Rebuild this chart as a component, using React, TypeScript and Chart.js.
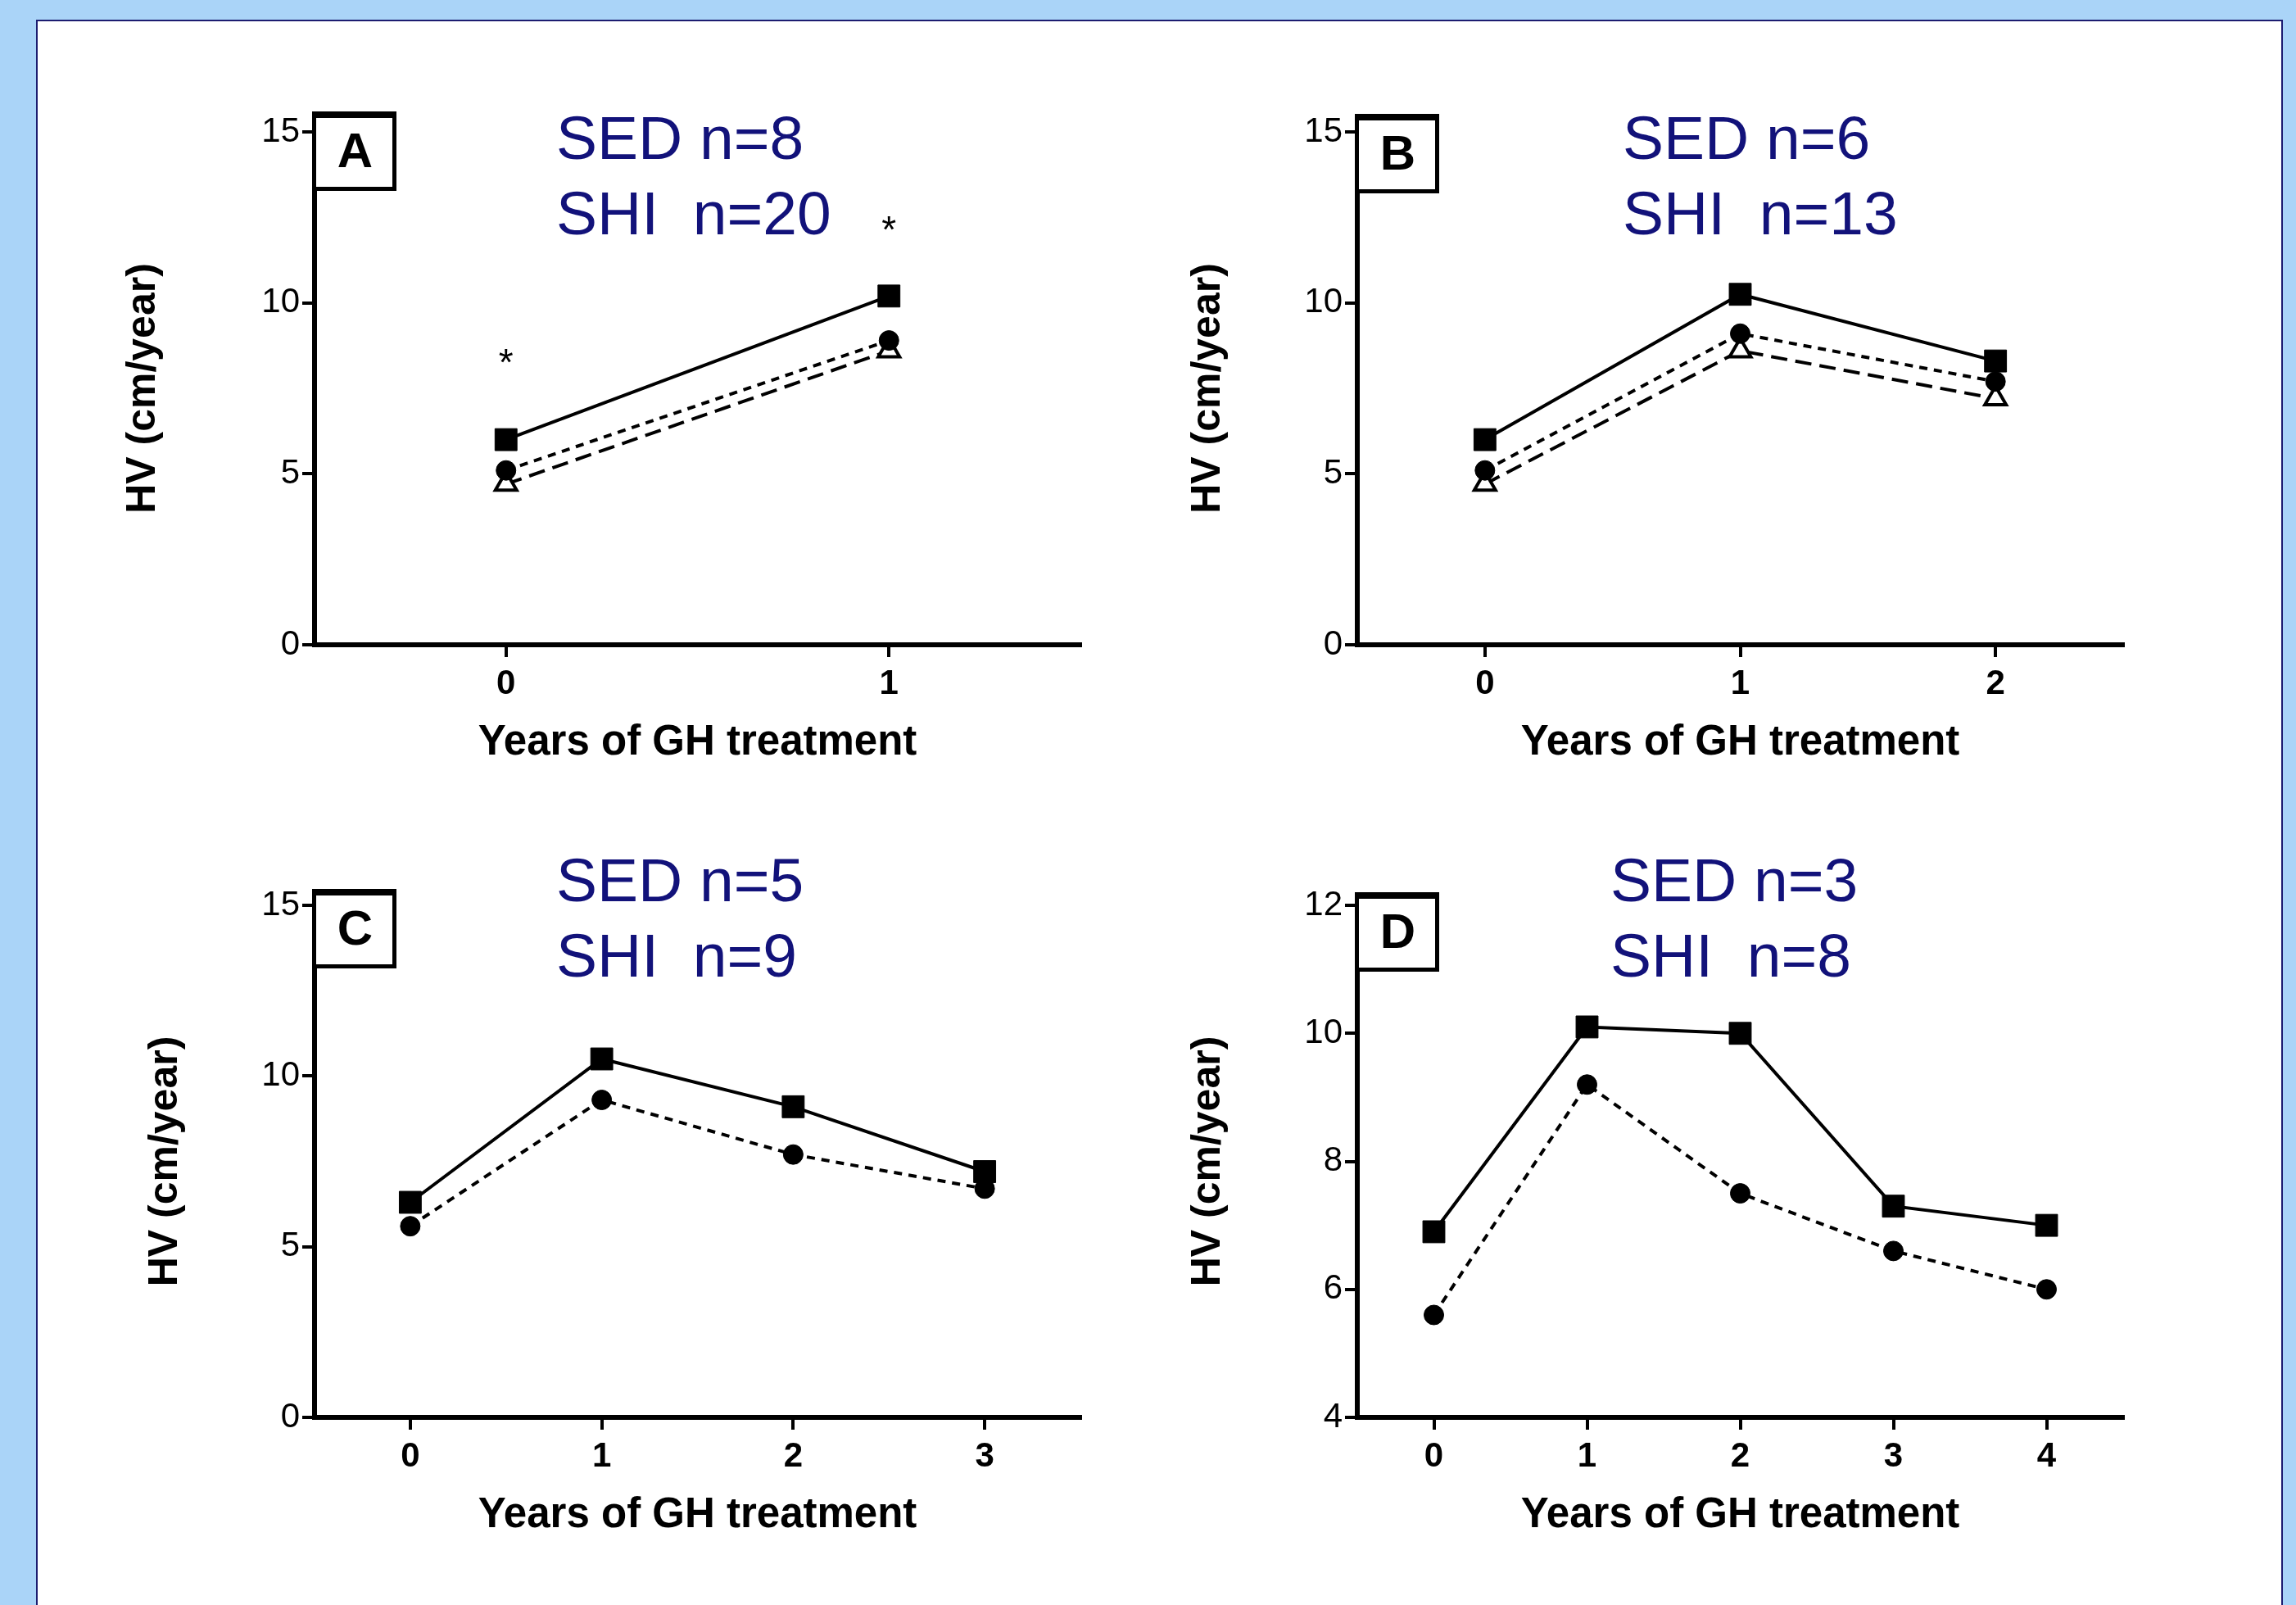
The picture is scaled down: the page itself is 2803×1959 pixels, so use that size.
import React, { useEffect, useRef } from "react";
import { Chart, registerables } from "chart.js";
Chart.register(...registerables);

const FONT = "'Liberation Sans', Arial, Helvetica, sans-serif";
Chart.defaults.font.family = FONT;

// ---------- data ----------
// Panel A
const xA = [0, 1];
const sqA = [6.0, 10.2];
const ciA = [5.1, 8.9];
const trA = [4.7, 8.6];
const starXA = [0, 1];
const starYA = [8.5, 12.4];
// Panel B
const xB = [0, 1, 2];
const sqB = [6.0, 10.25, 8.3];
const ciB = [5.1, 9.1, 7.7];
const trB = [4.7, 8.6, 7.2];
// Panel C
const xC = [0, 1, 2, 3];
const sqC = [6.3, 10.5, 9.1, 7.2];
const ciC = [5.6, 9.3, 7.7, 6.7];
// Panel D
const xD = [0, 1, 2, 3, 4];
const sqD = [6.9, 10.1, 10.0, 7.3, 7.0];
const ciD = [5.6, 9.2, 7.5, 6.6, 6.0];

const yTicks15 = [0, 5, 10, 15];
const yTicksD = [4, 6, 8, 10, 12];
const panelLetters = ["A", "B", "C", "D"];
const sedLabels = ["SED n=8", "SED n=6", "SED n=5", "SED n=3"];
const shiLabels = ["SHI  n=20", "SHI  n=13", "SHI  n=9", "SHI  n=8"];
const xTitle = "Years of GH treatment";
const yTitle = "HV (cm/year)";

type Panel = {
  letter: string;
  sed: string;
  shi: string;
  canvas: { x: number; y: number; w: number; h: number };
  area: { l: number; r: number; t: number; b: number };
  yTitleDist: number;
  xMin: number;
  xMax: number;
  yMin: number;
  yMax: number;
  xTicks: number[];
  yTicks: number[];
  x: number[];
  sq: number[];
  ci: number[];
  tr: number[] | null;
  starX: number[];
  starY: number[];
  boxDy: number;
  textDx: number;
  sedDy: number;
};

const panels: Panel[] = [
  {
    letter: panelLetters[0], sed: sedLabels[0], shi: shiLabels[0],
    canvas: { x: 100, y: 95, w: 1300, h: 890 },
    area: { l: 384, r: 1319, t: 161, b: 787 },
    yTitleDist: 209, xMin: -0.5, xMax: 1.5, yMin: 0, yMax: 15,
    xTicks: xA, yTicks: yTicks15, x: xA, sq: sqA, ci: ciA, tr: trA,
    starX: starXA, starY: starYA, boxDy: -25, textDx: 295, sedDy: 12,
  },
  {
    letter: panelLetters[1], sed: sedLabels[1], shi: shiLabels[1],
    canvas: { x: 1400, y: 95, w: 1300, h: 890 },
    area: { l: 1657, r: 2592, t: 161, b: 787 },
    yTitleDist: 182, xMin: -0.5, xMax: 2.5, yMin: 0, yMax: 15,
    xTicks: xB, yTicks: yTicks15, x: xB, sq: sqB, ci: ciB, tr: trB,
    starX: [], starY: [], boxDy: -22, textDx: 324, sedDy: 12,
  },
  {
    letter: panelLetters[2], sed: sedLabels[2], shi: shiLabels[2],
    canvas: { x: 100, y: 1025, w: 1300, h: 925 },
    area: { l: 384, r: 1319, t: 1105, b: 1730 },
    yTitleDist: 182, xMin: -0.5, xMax: 3.5, yMin: 0, yMax: 15,
    xTicks: xC, yTicks: yTicks15, x: xC, sq: sqC, ci: ciC, tr: null,
    starX: [], starY: [], boxDy: -20, textDx: 295, sedDy: -26,
  },
  {
    letter: panelLetters[3], sed: sedLabels[3], shi: shiLabels[3],
    canvas: { x: 1400, y: 1025, w: 1300, h: 925 },
    area: { l: 1657, r: 2592, t: 1105, b: 1730 },
    yTitleDist: 182, xMin: -0.5, xMax: 4.5, yMin: 4, yMax: 12,
    xTicks: xD, yTicks: yTicksD, x: xD, sq: sqD, ci: ciD, tr: null,
    starX: [], starY: [], boxDy: -16, textDx: 309, sedDy: -26,
  },
];

const NAVY = "#12127a";

function pts(xs: number[], ys: number[]) {
  return xs.map((x, i) => ({ x, y: ys[i] }));
}

function PanelChart({ p }: { p: Panel }) {
  const ref = useRef<HTMLCanvasElement | null>(null);
  useEffect(() => {
    if (!ref.current) return;
    const X_H = 151;
    const Y_W = p.yTitleDist + 29.4;
    const padding = {
      left: p.area.l - p.canvas.x - Y_W,
      top: p.area.t - p.canvas.y,
      right: p.canvas.x + p.canvas.w - p.area.r,
      bottom: p.canvas.y + p.canvas.h - p.area.b - X_H,
    };
    const datasets: any[] = [
      {
        data: pts(p.x, p.sq),
        borderColor: "#000",
        borderWidth: 4,
        pointStyle: "rect",
        pointRadius: 19,
        pointBackgroundColor: "#000",
        pointBorderColor: "#000",
        pointBorderWidth: 1,
        tension: 0,
      },
      {
        data: pts(p.x, p.ci),
        borderColor: "#000",
        borderWidth: 4,
        borderDash: [10, 8],
        pointStyle: "circle",
        pointRadius: 12,
        pointBackgroundColor: "#000",
        pointBorderColor: "#000",
        pointBorderWidth: 1,
        tension: 0,
      },
    ];
    if (p.tr) {
      datasets.push({
        data: pts(p.x, p.tr),
        borderColor: "#000",
        borderWidth: 4,
        borderDash: [20, 10],
        pointStyle: "triangle",
        pointRadius: 15,
        pointBackgroundColor: "#fff",
        pointBorderColor: "#000",
        pointBorderWidth: 4,
        tension: 0,
      });
    }
    const annot = {
      id: "annot" + p.letter,
      afterDraw(chart: any) {
        const ctx = chart.ctx as CanvasRenderingContext2D;
        const ca = chart.chartArea;
        ctx.save();
        // letter box
        const x0 = ca.left - 3;
        const y0 = ca.top + p.boxDy;
        const bw = 103;
        const bh = 97;
        ctx.fillStyle = "#fff";
        ctx.fillRect(x0 + 3, y0, bw - 3, bh);
        ctx.strokeStyle = "#000";
        ctx.lineWidth = 5;
        ctx.strokeRect(x0 + 2.5, y0 + 2.5, bw - 5, bh - 5);
        ctx.fillStyle = "#000";
        ctx.fillRect(x0, y0, bw, 8);
        ctx.font = `bold 60px ${FONT}`;
        ctx.textAlign = "center";
        ctx.textBaseline = "middle";
        ctx.fillText(p.letter, x0 + bw / 2 + 1, y0 + bh / 2 + 3);
        // SED / SHI text
        ctx.font = `75px ${FONT}`;
        ctx.fillStyle = NAVY;
        ctx.textAlign = "left";
        ctx.textBaseline = "middle";
        ctx.fillText(p.sed, ca.left + p.textDx, ca.top + p.sedDy);
        ctx.fillText(p.shi, ca.left + p.textDx, ca.top + p.sedDy + 92);
        // asterisks
        const xs = chart.scales.x;
        const ys = chart.scales.y;
        ctx.fillStyle = "#000";
        ctx.font = `46px ${FONT}`;
        ctx.textAlign = "center";
        ctx.textBaseline = "alphabetic";
        p.starX.forEach((sx, i) => {
          const px = xs.getPixelForValue(sx);
          const py = ys.getPixelForValue(p.starY[i]);
          ctx.fillText("*", px, py + 26);
        });
        ctx.restore();
      },
    };
    const chart = new Chart(ref.current, {
      type: "line",
      data: { datasets },
      plugins: [annot],
      options: {
        animation: false,
        responsive: false,
        events: [],
        layout: { padding },
        plugins: { legend: { display: false }, tooltip: { enabled: false } },
        scales: {
          x: {
            type: "linear",
            min: p.xMin,
            max: p.xMax,
            afterBuildTicks: (s: any) => {
              s.ticks = p.xTicks.map((v) => ({ value: v }));
            },
            afterFit: (s: any) => {
              s.height = X_H;
            },
            grid: {
              drawOnChartArea: false,
              drawTicks: true,
              tickLength: 15,
              tickWidth: 4,
              tickColor: "#000",
              lineWidth: 4,
              color: "#000",
            },
            border: { display: true, color: "#000", width: 6 },
            ticks: {
              font: { family: FONT, size: 42, weight: "bold" },
              color: "#000",
              padding: 8,
              maxRotation: 0,
              autoSkip: false,
            },
            title: {
              display: true,
              text: xTitle,
              font: { family: FONT, size: 51, weight: "bold" },
              color: "#000",
              padding: 0,
            },
          },
          y: {
            type: "linear",
            min: p.yMin,
            max: p.yMax,
            afterBuildTicks: (s: any) => {
              s.ticks = p.yTicks.map((v) => ({ value: v }));
            },
            afterFit: (s: any) => {
              s.width = Y_W;
            },
            grid: {
              drawOnChartArea: false,
              drawTicks: true,
              tickLength: 15,
              tickWidth: 4,
              tickColor: "#000",
              lineWidth: 4,
              color: "#000",
            },
            border: { display: true, color: "#000", width: 6 },
            ticks: {
              font: { family: FONT, size: 42 },
              color: "#000",
              padding: 3,
              autoSkip: false,
            },
            title: {
              display: true,
              text: yTitle,
              font: { family: FONT, size: 50, weight: "bold" },
              color: "#000",
              padding: 0,
            },
          },
        },
      } as any,
    });
    return () => chart.destroy();
  }, [p]);
  return (
    <canvas
      ref={ref}
      width={p.canvas.w}
      height={p.canvas.h}
      style={{
        position: "absolute",
        left: p.canvas.x,
        top: p.canvas.y,
        width: p.canvas.w,
        height: p.canvas.h,
      }}
    />
  );
}

export default function App() {
  useEffect(() => {
    document.body.style.overflow = "hidden";
  }, []);
  return (
    <div
      style={{
        position: "absolute",
        left: 0,
        top: 0,
        width: 2803,
        height: 1959,
        background: "#aad4f8",
        overflow: "hidden",
      }}
    >
      <div
        style={{
          position: "absolute",
          left: 44,
          top: 24,
          width: 2787 - 44,
          height: 2000,
          background: "#fff",
          border: "2px solid #1c1c70",
          boxSizing: "border-box",
        }}
      />
      {panels.map((p) => (
        <PanelChart key={p.letter} p={p} />
      ))}
    </div>
  );
}
